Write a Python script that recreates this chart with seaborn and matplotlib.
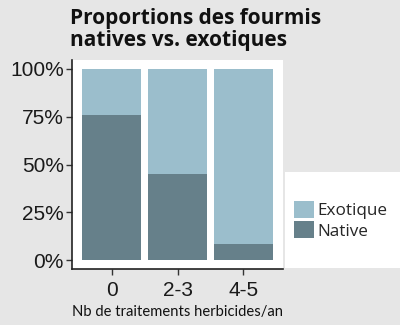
import matplotlib
matplotlib.use("Agg")
import matplotlib.pyplot as plt
import matplotlib.patches as mpatches
import seaborn as sns
import pandas as pd
from matplotlib.ticker import FixedLocator

categories = ["0", "2-3", "4-5"]
native = [0.76, 0.45, 0.083]
exotique = [0.24, 0.55, 0.917]
series_labels = ["Exotique", "Native"]
y_ticks = [0, 0.25, 0.5, 0.75, 1.0]
y_ticklabels = ["0%", "25%", "50%", "75%", "100%"]

col_exo = "#9bbecc"
col_nat = "#66808a"
bg = "#e6e6e6"

sns.set_theme(style="white")
plt.rcParams["font.family"] = ["Liberation Sans", "DejaVu Sans"]

df = pd.DataFrame({"cat": categories, "native": native,
                   "total": [n + e for n, e in zip(native, exotique)]})

fig = plt.figure(figsize=(4, 3.25), dpi=100, facecolor=bg)
ax = fig.add_axes([72/400, 1-269/325, 211/400, 209/325])
ax.set_facecolor("white")

sns.barplot(data=df, x="cat", y="total", color=col_exo, saturation=1,
            width=0.9, ax=ax, order=categories)
sns.barplot(data=df, x="cat", y="native", color=col_nat, saturation=1,
            width=0.9, ax=ax, order=categories)
for p in ax.patches:
    p.set_edgecolor("none")

ax.set_xlim(-0.6, 2.6)
ax.set_ylim(-0.045, 1.045)
ax.yaxis.set_major_locator(FixedLocator(y_ticks))
ax.set_yticklabels(y_ticklabels)
ax.tick_params(axis="both", which="major", length=4, width=1, color="#333333",
               labelsize=15, labelcolor="#1a1a1a", direction="out",
               left=True, bottom=True)
ax.tick_params(axis="y", pad=2)
ax.tick_params(axis="x", pad=5)
for s in ["top", "right"]:
    ax.spines[s].set_visible(False)
for s in ["left", "bottom"]:
    ax.spines[s].set_visible(True)
    ax.spines[s].set_color("#222222")
    ax.spines[s].set_linewidth(1.2)
ax.set_ylabel("")
ax.set_xlabel("Nb de traitements herbicides/an", family=["Lato", "DejaVu Sans"],
              fontsize=10.6, color="#111111", labelpad=3)

fig.text(70/400, 1-8/325, "Proportions des fourmis\nnatives vs. exotiques",
         ha="left", va="top", fontsize=15, fontweight="bold",
         family=["Open Sans", "DejaVu Sans"], color="#111111", linespacing=1.05)

# legend background
fig.patches.append(mpatches.Rectangle((285/400, 1-268/325), 115/400, 96/325,
                                      transform=fig.transFigure, facecolor="white",
                                      edgecolor="none", zorder=0))
handles = [mpatches.Patch(facecolor=col_exo, edgecolor="none"),
           mpatches.Patch(facecolor=col_nat, edgecolor="none")]
leg = fig.legend(handles, series_labels, loc="upper left",
                 bbox_to_anchor=(294/400, 1-201/325), frameon=False,
                 prop={"family": ["Open Sans", "DejaVu Sans"], "size": 12.3},
                 handlelength=1.15, handleheight=1.15, handletextpad=0.2,
                 labelspacing=0.12, borderpad=0, borderaxespad=0)

fig.savefig("out.png", dpi=100, facecolor=bg)
